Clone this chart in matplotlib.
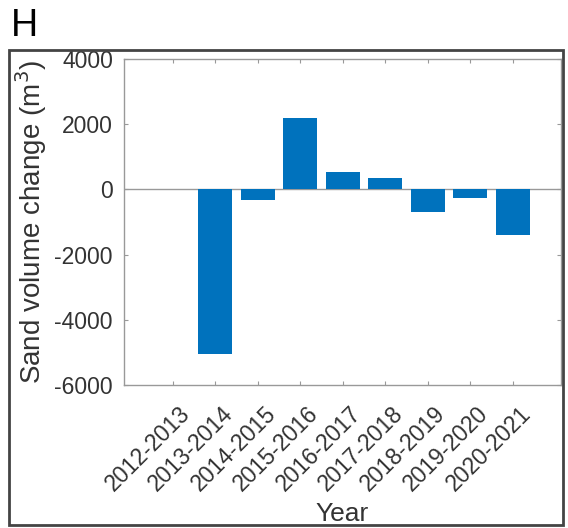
import matplotlib.pyplot as plt
import matplotlib.transforms as mtransforms
from matplotlib.patches import Rectangle

plt.rcParams['font.family'] = ['Liberation Sans', 'DejaVu Sans']

years = ['2012-2013', '2013-2014', '2014-2015', '2015-2016', '2016-2017',
         '2017-2018', '2018-2019', '2019-2020', '2020-2021']
volume = [0, -5050, -330, 2200, 530, 360, -700, -255, -1400]
yticks = [-6000, -4000, -2000, 0, 2000, 4000]

W, H = 568, 528
fig = plt.figure(figsize=(W / 100, H / 100), dpi=100)

# axes box in pixels: left 124, right 561, top 59, bottom 385
ax = fig.add_axes([124 / W, 1 - 385 / H, (561 - 124) / W, (385 - 59) / H])

pos = list(range(1, len(years) + 1))
ax.bar(pos, volume, width=0.8, color='#0072BD', edgecolor='none', zorder=2)
ax.axhline(0, color='#999999', lw=1, zorder=1)

ax.set_xlim(-0.15, 10.13)
ax.set_ylim(-6000, 4000)
ax.set_yticks(yticks)
ax.set_yticklabels([str(t) for t in yticks], fontsize=16.5, color='#333333')
ax.set_xticks(pos)
ax.set_xticklabels(years, rotation=45, ha='right', va='top', rotation_mode='anchor',
                   fontsize=16.5, color='#333333')
ax.tick_params(direction='in', length=3, color='#999999', top=True, right=True)
ax.tick_params(axis='y', pad=8)
ax.tick_params(axis='x', pad=12)
# nudge the slanted year labels a little to the right
shift = mtransforms.ScaledTranslation(6 / 100, 0, fig.dpi_scale_trans)
for lab in ax.get_xticklabels():
    lab.set_transform(lab.get_transform() + shift)
for s in ax.spines.values():
    s.set_color('#999999')
    s.set_linewidth(1)

ax.set_ylabel('Sand volume change (m$^3$)', fontsize=20, color='#333333', labelpad=4)
fig.text(342 / W, 1 - 514 / H, 'Year', fontsize=19, color='#333333', ha='center', va='center')

# panel letter and outer frame
fig.text(11 / W, 1 - 26 / H, 'H', fontsize=27, ha='left', va='center')
fig.patches.append(Rectangle((9 / W, 1 - 525 / H), (563 - 9) / W, (525 - 50) / H,
                             transform=fig.transFigure, fill=False,
                             edgecolor='#444444', linewidth=2))

fig.savefig('out.png', dpi=100)
